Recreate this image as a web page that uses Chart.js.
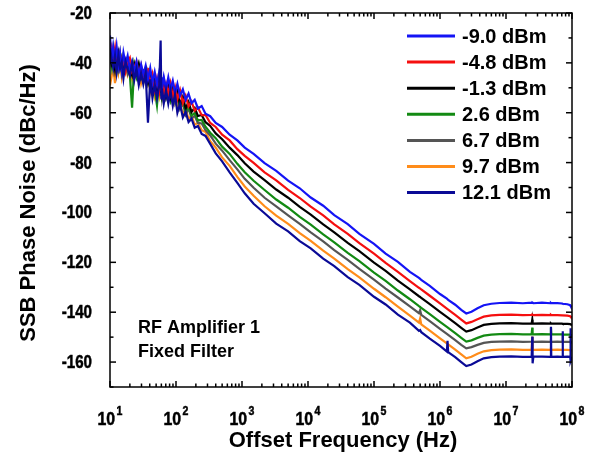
<!DOCTYPE html>
<html><head><meta charset="utf-8">
<script src="https://cdn.jsdelivr.net/npm/chart.js@4.4.0/dist/chart.umd.min.js"></script>
<style>html,body{margin:0;padding:0;background:#fff;}canvas{display:block;}</style>
</head><body>
<canvas id="c" width="606" height="464"></canvas>
<script>
// ---- data ----
const freqs = [10, 10.6, 11.2, 11.9, 12.6, 13.4, 14.2, 15.1, 16, 17.2, 18.5, 20, 21.6, 23.3, 25.2, 27.3, 29.6, 32, 34.7, 37.6, 40.7, 44, 47.6, 51.5, 55.7, 58.5, 60, 61.5, 65.3, 70.6, 76.4, 82.6, 89.4, 96.7,
  105, 115, 127, 140, 155, 172, 192, 215, 245, 280, 330, 400, 500, 650, 850, 1100,
  1500, 2200, 3300, 5000, 7500, 1.1e4, 1.7e4, 2.5e4, 4e4, 6e4,
  1e5, 1.5e5, 2.3e5, 3.5e5, 4.8e5, 5e5, 5.2e5, 7e5,
  1e6, 1.27e6, 1.3e6, 1.33e6, 1.7e6, 2.1e6, 2.5e6, 3e6, 3.7e6, 4.6e6, 6e6, 8e6,
  1.2e7, 1.8e7, 2.45e7, 2.5e7, 2.53e7, 2.6e7, 3.5e7, 4.75e7, 4.8e7, 4.85e7, 6e7, 7.1e7, 7.2e7, 7.3e7, 8.5e7, 9.4e7, 9.5e7, 9.55e7, 1e8];

const s_m9_0 = [-29, -40.4, -33.7, -39.1, -33.5, -40.9, -36.3, -42.7, -36, -40.4,
  -37.2, -43, -39.5, -43.5, -39.5, -44.9, -40.7, -44.6, -41.1, -46.6,
  -42.1, -48.1, -43.7, -48.7, -43.7, -49.0, -45.7, -50.3, -45.7, -50.5,
  -45.8, -50.7, -47.2, -52.2, -48.4, -53.2, -50.6, -54.9, -52.3, -56.2,
  -54.8, -58.3, -57.3, -60.4, -61.4, -64.1, -65.7, -68.8, -71.1, -74.0,
  -76.5, -80.2, -83.3, -87.2, -90.3, -94.0, -97.3, -101.1, -104.7, -108.6,
  -112.6, -116.5, -119.8, -123.8, -126.2, -126.6, -127.1, -129.4, -132.7, -134.5,
  -134.8, -135.1, -137.0, -139.1, -140.5, -139.8, -138.4, -137.2, -136.6, -136.3,
  -136.2, -136.4, -136.2, -136.3, -136.2, -136.4, -136.2, -136.4, -136.3, -136.4,
  -136.4, -136.5, -136.5, -136.6, -136.8, -137.2, -137.4, -137.5, -137.8];

const s_m4_8 = [-39, -34.4, -38.7, -34.1, -41.5, -37.9, -36.3, -41.7, -38, -43.4,
  -39.7, -38, -43.5, -42, -39.5, -44.9, -41.2, -46.6, -43.1, -42.6,
  -48.6, -44.6, -50.7, -46.2, -51.2, -46.0, -51.2, -47.3, -52.7, -48.5,
  -52.3, -48.2, -53.7, -49.7, -54.5, -50.9, -56.2, -53.2, -57.5, -55.5,
  -59.2, -57.9, -61.0, -60.9, -64.1, -65.7, -68.8, -71.1, -74.6, -77.3,
  -80.1, -83.9, -87.1, -90.9, -94.2, -97.7, -101.2, -104.8, -108.6, -112.3,
  -116.5, -120.2, -123.8, -127.5, -130.2, -130.5, -130.9, -133.4, -136.5, -138.6,
  -138.8, -139.0, -141.1, -143.0, -144.5, -143.9, -142.8, -141.8, -141.3, -141.1,
  -141.0, -141.2, -141.1, -141.1, -141.0, -141.2, -141.1, -141.2, -141.1, -141.2,
  -141.2, -141.3, -141.3, -141.3, -141.4, -141.6, -141.7, -141.8, -142.0];

const s_m1_3 = [-34.5, -39.9, -37.2, -42.6, -37, -35.4, -40.8, -39.2, -43.5, -38.9,
  -38.2, -42.5, -45, -40.5, -44, -40.4, -45.7, -43.1, -42.6, -48.1,
  -44.1, -49.6, -45.7, -51.7, -47.7, -52.0, -47.7, -51.8, -47.2, -53.5,
  -49.3, -53.7, -49.7, -54.2, -51.5, -56.9, -53.6, -58.3, -55.7, -59.7,
  -58.1, -61.3, -60.9, -63.8, -65.3, -68.3, -70.6, -74.0, -77.0, -80.3,
  -83.6, -87.0, -90.8, -94.1, -97.8, -100.9, -104.8, -108.0, -112.2, -115.5,
  -120.1, -123.4, -127.3, -130.8, -133.6, -133.9, -134.3, -136.8, -139.9, -141.9,
  -142.1, -142.3, -144.4, -146.3, -147.8, -147.2, -146.1, -145.1, -144.7, -144.5,
  -144.4, -144.6, -144.5, -143.0, -144.5, -144.6, -144.5, -144.6, -144.5, -144.6,
  -144.6, -144.6, -144.7, -144.6, -144.7, -144.8, -144.8, -144.9, -145.0];

const s_2_6 = [-37, -41.4, -34.7, -40.1, -43.5, -37.9, -40.3, -37.7, -43, -42.4,
  -39.7, -45, -58, -41, -45.5, -40.9, -45.2, -47.6, -43.1, -45.6,
  -50.1, -46.1, -50.7, -57.0, -47.2, -53.0, -48.2, -52.8, -49.2, -53.0,
  -48.8, -54.7, -50.7, -54.7, -53.1, -57.5, -54.7, -59.7, -57.3, -61.1,
  -60.1, -63.1, -62.9, -65.6, -68.0, -70.2, -73.6, -76.5, -80.5, -83.9,
  -87.3, -91.0, -94.8, -98.1, -101.8, -104.9, -108.8, -112.0, -116.2, -119.5,
  -124.1, -127.4, -131.3, -134.8, -137.6, -137.9, -138.3, -140.8, -143.9, -145.9,
  -146.1, -146.3, -148.4, -150.3, -151.8, -151.3, -150.3, -149.4, -149.0, -148.8,
  -148.7, -148.9, -148.8, -146.2, -148.8, -148.9, -148.8, -148.9, -146.2, -148.9,
  -148.9, -148.9, -149.0, -148.9, -149.0, -149.0, -149.1, -149.1, -149.2];

const s_6_7 = [-39.5, -36.9, -42.2, -36.6, -39, -42.4, -36.8, -44.2, -41.5, -39.9,
  -44.2, -41.5, -40, -45.5, -43, -47.4, -42.7, -45.1, -47.6, -43.1,
  -46.1, -51.6, -46.7, -51.7, -47.2, -53.0, -49.2, -53.8, -49.2, -53.5,
  -49.3, -54.7, -50.7, -56.2, -53.5, -58.5, -56.2, -60.8, -58.3, -62.2,
  -61.3, -64.1, -64.3, -67.0, -69.1, -72.4, -75.2, -79.0, -82.7, -86.5,
  -90.1, -94.1, -97.6, -101.2, -104.6, -108.0, -111.6, -115.1, -119.0, -122.6,
  -126.9, -130.5, -134.1, -137.7, -140.4, -139.2, -141.1, -143.6, -146.7, -148.7,
  -148.9, -149.1, -151.2, -153.1, -154.5, -154.0, -153.1, -152.3, -151.9, -151.8,
  -151.7, -151.9, -151.8, -151.8, -151.7, -151.9, -151.8, -151.9, -151.8, -151.9,
  -151.8, -151.9, -148.5, -151.9, -151.9, -151.9, -152.0, -151.9, -152.0];

const s_9_7 = [-49, -45.4, -41.7, -48.1, -39.5, -43.9, -39.3, -45.7, -42, -39.4,
  -44.7, -42, -46.5, -42, -45.5, -41.9, -48.2, -44.6, -48.1, -44.6,
  -51.6, -47.1, -53.2, -48.7, -53.2, -48.5, -54.2, -49.8, -55.2, -50.5,
  -54.8, -50.7, -56.2, -52.2, -58.6, -55.6, -60.9, -58.2, -62.6, -61.1,
  -64.8, -64.0, -67.0, -67.7, -71.4, -74.0, -77.9, -81.3, -85.7, -89.6,
  -93.3, -97.5, -101.3, -104.6, -108.3, -111.4, -115.3, -118.5, -122.7, -126.0,
  -130.6, -134.0, -137.8, -141.4, -144.2, -142.5, -144.9, -147.4, -150.5, -152.5,
  -152.7, -152.9, -155.0, -156.9, -158.5, -157.9, -156.7, -155.7, -155.2, -155.0,
  -154.9, -155.1, -155.0, -149.8, -155.0, -155.1, -155.0, -155.1, -155.0, -155.1,
  -155.0, -155.1, -155.1, -155.1, -155.1, -155.2, -155.2, -155.2, -155.3];

const s_12_1 = [-34, -38.4, -41.7, -37.1, -43.5, -36.9, -42.3, -39.7, -46, -39.4,
  -42.7, -45, -40.5, -47, -42.5, -48.9, -44.2, -48.6, -44.1, -64,
  -46.6, -54.1, -48.7, -54.2, -49.2, -31, -54.7, -50.3, -56.2, -51.0,
  -56.3, -51.2, -57.2, -52.7, -60.0, -56.5, -61.9, -59.6, -63.7, -62.4,
  -66.0, -65.3, -68.5, -69.3, -72.5, -76.3, -79.5, -83.9, -88.1, -92.3,
  -96.5, -100.3, -104.5, -107.6, -111.5, -114.4, -118.5, -121.5, -125.9, -129.0,
  -133.8, -136.9, -141.0, -144.2, -147.5, -147.2, -148.0, -150.6, -153.5, -155.8,
  -151.5, -156.0, -158.0, -160.0, -161.6, -161.0, -159.7, -158.5, -158.0, -157.8,
  -157.7, -157.9, -157.8, -149.8, -160.5, -157.8, -157.8, -157.9, -145.8, -157.9,
  -157.8, -157.9, -147.6, -157.9, -157.8, -157.9, -146.4, -159.5, -157.9];

const seriesLabels = ['-9.0 dBm', '-4.8 dBm', '-1.3 dBm', '2.6 dBm', '6.7 dBm', '9.7 dBm', '12.1 dBm'];
const yTicks = [-160, -140, -120, -100, -80, -60, -40, -20];
const xTickExps = [1, 2, 3, 4, 5, 6, 7, 8];
const xTitle = 'Offset Frequency (Hz)';
const yTitle = 'SSB Phase Noise (dBc/Hz)';
const noteLines = ['RF Amplifier 1', 'Fixed Filter'];

// ---- styles ----
const seriesValues = [s_m9_0, s_m4_8, s_m1_3, s_2_6, s_6_7, s_9_7, s_12_1];
const seriesColors = ['#1414F5', '#F50F0F', '#000000', '#138A13', '#555555', '#FF8C1A', '#0A0A96'];
const drawOrder = [1, 2, 3, 4, 5, 6, 0];
const FONT = '"Liberation Sans", Arial, Helvetica, sans-serif';

const datasets = seriesValues.map((vals, i) => ({
  label: seriesLabels[i],
  data: freqs.map((f, j) => ({ x: f, y: vals[j] })),
  borderColor: seriesColors[i],
  backgroundColor: seriesColors[i],
  borderWidth: 2.2,
  pointRadius: 0,
  tension: 0,
  fill: false,
  order: drawOrder[i]
}));

const deco = {
  id: 'deco',
  afterDraw(chart) {
    const ctx = chart.ctx, a = chart.chartArea;
    const xs = chart.scales.x, ys = chart.scales.y;
    ctx.save();
    ctx.fillStyle = '#000';
    ctx.strokeStyle = '#000';
    ctx.lineWidth = 1.5;
    const seg = (x1, y1, x2, y2) => { ctx.beginPath(); ctx.moveTo(x1, y1); ctx.lineTo(x2, y2); ctx.stroke(); };
    const heavyText = (t, x, y) => { ctx.fillText(t, x, y); ctx.lineWidth = 0.5; ctx.strokeStyle = '#000'; ctx.strokeText(t, x, y); };
    // frame
    ctx.strokeRect(a.left, a.top, a.right - a.left, a.bottom - a.top);
    // y ticks (inward, both sides)
    for (let v = ys.min; v <= ys.max; v += 10) {
      const y = ys.getPixelForValue(v);
      const L = yTicks.includes(v) ? 6 : 3.5;
      seg(a.left, y, a.left + L, y);
      seg(a.right, y, a.right - L, y);
    }
    // x ticks (inward, top and bottom)
    for (let e = 1; e <= 8; e++) {
      for (let m = 1; m <= 9; m++) {
        if (e === 8 && m > 1) break;
        const x = xs.getPixelForValue(m * Math.pow(10, e));
        const L = m === 1 ? 6 : 3.5;
        seg(x, a.bottom, x, a.bottom - L);
        seg(x, a.top, x, a.top + L);
      }
    }
    // y tick labels
    ctx.textAlign = 'right';
    ctx.textBaseline = 'middle';
    ctx.font = 'bold 18px ' + FONT;
    yTicks.forEach(v => {
      const y = ys.getPixelForValue(v);
      ctx.save();
      ctx.translate(a.left - 18, y + 1);
      ctx.scale(0.84, 1);
      heavyText(String(v), 0, 0);
      ctx.restore();
    });
    // x tick labels 10^n
    ctx.textAlign = 'left';
    ctx.textBaseline = 'alphabetic';
    xTickExps.forEach(e => {
      const x = xs.getPixelForValue(Math.pow(10, e));
      ctx.font = 'bold 18px ' + FONT;
      const w1 = ctx.measureText('10').width * 0.88;
      ctx.font = 'bold 12px ' + FONT;
      const w2 = ctx.measureText(String(e)).width * 0.88;
      const x0 = x - (w1 + 1.5 + w2) / 2;
      ctx.save();
      ctx.translate(x0, 425);
      ctx.scale(0.88, 1);
      ctx.font = 'bold 18px ' + FONT;
      heavyText('10', 0, 0);
      ctx.restore();
      ctx.save();
      ctx.translate(x0 + w1 + 1.5, 415);
      ctx.scale(0.88, 1);
      ctx.font = 'bold 12px ' + FONT;
      heavyText(String(e), 0, 0);
      ctx.restore();
    });
    // axis titles
    ctx.font = 'bold 22px ' + FONT;
    ctx.textAlign = 'center';
    ctx.textBaseline = 'middle';
    ctx.fillText(xTitle, (a.left + a.right) / 2 + 2, 441);
    ctx.save();
    ctx.translate(29, (a.top + a.bottom) / 2 + 3);
    ctx.rotate(-Math.PI / 2);
    ctx.fillText(yTitle, 0, 0);
    ctx.restore();
    // legend
    ctx.textAlign = 'left';
    ctx.font = 'bold 20px ' + FONT;
    chart.data.datasets.forEach((ds, i) => {
      const y = 36 + i * 26.1;
      ctx.strokeStyle = ds.borderColor;
      ctx.lineWidth = 3;
      seg(407, y, 455, y);
      ctx.fillStyle = '#000';
      ctx.fillText(ds.label, 462, y + 1);
    });
    // annotation
    ctx.font = 'bold 18px ' + FONT;
    ctx.textBaseline = 'alphabetic';
    ctx.fillText(noteLines[0], 138, 333);
    ctx.fillText(noteLines[1], 138, 356.5);
    ctx.restore();
  }
};

new Chart(document.getElementById('c'), {
  type: 'line',
  data: { datasets },
  options: {
    responsive: false,
    animation: false,
    devicePixelRatio: 1,
    layout: { padding: { left: 110, right: 34, top: 13, bottom: 77 } },
    plugins: { legend: { display: false }, tooltip: { enabled: false } },
    scales: {
      x: { type: 'logarithmic', min: 10, max: 1e8, display: false },
      y: { type: 'linear', min: -170, max: -20, display: false }
    }
  },
  plugins: [deco]
});
</script>
</body></html>
